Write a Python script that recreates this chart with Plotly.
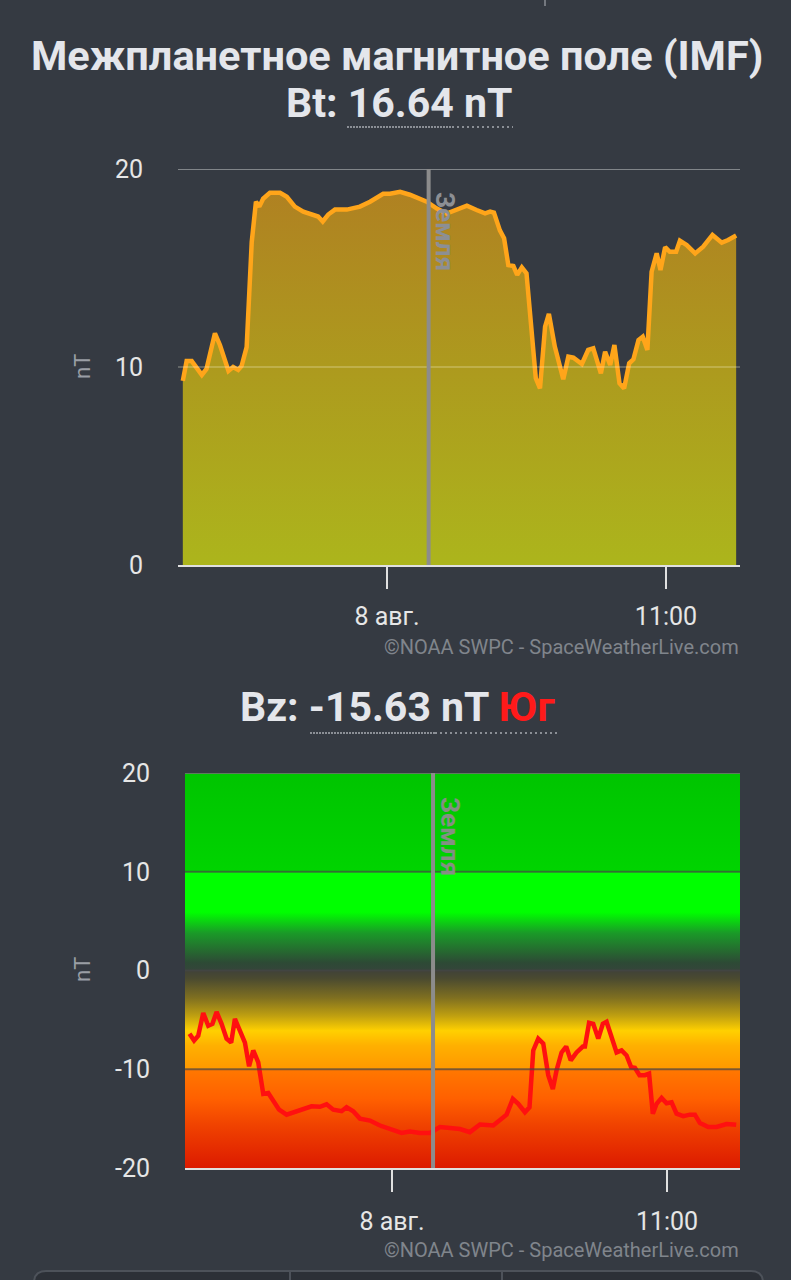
import plotly.graph_objects as go

# ---------------- data ----------------
BT_TIME = [
    "2024-08-07 15:57", "2024-08-07 16:06", "2024-08-07 16:18", "2024-08-07 16:42", "2024-08-07 16:53",
    "2024-08-07 17:13", "2024-08-07 17:25", "2024-08-07 17:45", "2024-08-07 17:56", "2024-08-07 18:08",
    "2024-08-07 18:16", "2024-08-07 18:28", "2024-08-07 18:40", "2024-08-07 18:50", "2024-08-07 18:58",
    "2024-08-07 19:07", "2024-08-07 19:23", "2024-08-07 19:47", "2024-08-07 20:03", "2024-08-07 20:22",
    "2024-08-07 20:42", "2024-08-07 21:06", "2024-08-07 21:17", "2024-08-07 21:28", "2024-08-07 21:41",
    "2024-08-07 21:57", "2024-08-07 22:25", "2024-08-07 22:56", "2024-08-07 23:20", "2024-08-07 23:51",
    "2024-08-08 00:07", "2024-08-08 00:31", "2024-08-08 00:54", "2024-08-08 01:34", "2024-08-08 01:58",
    "2024-08-08 02:21", "2024-08-08 02:45", "2024-08-08 03:09", "2024-08-08 03:32", "2024-08-08 03:52",
    "2024-08-08 04:04", "2024-08-08 04:13", "2024-08-08 04:27", "2024-08-08 04:37", "2024-08-08 04:47",
    "2024-08-08 04:59", "2024-08-08 05:08", "2024-08-08 05:19", "2024-08-08 05:30", "2024-08-08 05:42",
    "2024-08-08 05:52", "2024-08-08 06:02", "2024-08-08 06:14", "2024-08-08 06:23", "2024-08-08 06:37",
    "2024-08-08 06:57", "2024-08-08 07:09", "2024-08-08 07:21", "2024-08-08 07:41", "2024-08-08 07:56",
    "2024-08-08 08:08", "2024-08-08 08:26", "2024-08-08 08:36", "2024-08-08 08:48", "2024-08-08 08:58",
    "2024-08-08 09:10", "2024-08-08 09:21", "2024-08-08 09:33", "2024-08-08 09:43", "2024-08-08 09:55",
    "2024-08-08 10:05", "2024-08-08 10:16", "2024-08-08 10:26", "2024-08-08 10:38", "2024-08-08 10:47",
    "2024-08-08 10:58", "2024-08-08 11:09", "2024-08-08 11:24", "2024-08-08 11:33", "2024-08-08 11:49",
    "2024-08-08 12:09", "2024-08-08 12:28", "2024-08-08 12:50", "2024-08-08 13:12", "2024-08-08 13:27",
    "2024-08-08 13:46",
]
BT_VALUE = [
    9.3, 10.3, 10.3, 9.6, 9.9,
    11.7, 11.1, 9.8, 10.0, 9.85,
    10.05, 11.0, 16.3, 18.35, 18.1,
    18.5, 18.8, 18.8, 18.6, 18.1,
    17.85, 17.7, 17.6, 17.35, 17.7,
    17.95, 17.95, 18.1, 18.35, 18.75,
    18.75, 18.85, 18.7, 18.35, 18.0,
    17.75, 17.93, 18.15, 17.93, 17.76,
    17.85, 17.8, 16.9, 16.5, 15.15,
    15.1, 14.65, 15.03, 14.73, 11.7,
    9.43, 8.92, 12.04, 12.68, 11.03,
    9.38, 10.52, 10.47, 10.15, 10.86,
    10.94, 9.68, 10.77, 10.1, 11.11,
    9.18, 8.92, 10.19, 10.39, 11.36,
    11.53, 10.86, 14.81, 15.74, 14.9,
    16.05, 15.82, 15.82, 16.38, 16.16,
    15.74, 16.08, 16.67, 16.28, 16.41,
    16.64,
]

BZ_TIME = [
    "2024-08-07 15:54", "2024-08-07 16:05", "2024-08-07 16:15", "2024-08-07 16:27", "2024-08-07 16:39",
    "2024-08-07 16:49", "2024-08-07 16:59", "2024-08-07 17:11", "2024-08-07 17:23", "2024-08-07 17:34",
    "2024-08-07 17:43", "2024-08-07 17:55", "2024-08-07 18:07", "2024-08-07 18:17", "2024-08-07 18:27",
    "2024-08-07 18:39", "2024-08-07 18:51", "2024-08-07 19:03", "2024-08-07 19:15", "2024-08-07 19:29",
    "2024-08-07 19:47", "2024-08-07 20:07", "2024-08-07 20:27", "2024-08-07 20:47", "2024-08-07 21:07",
    "2024-08-07 21:23", "2024-08-07 21:39", "2024-08-07 21:59", "2024-08-07 22:11", "2024-08-07 22:27",
    "2024-08-07 22:43", "2024-08-07 23:07", "2024-08-07 23:31", "2024-08-07 23:55", "2024-08-08 00:23",
    "2024-08-08 00:43", "2024-08-08 01:07", "2024-08-08 01:31", "2024-08-08 01:55", "2024-08-08 02:19",
    "2024-08-08 02:43", "2024-08-08 03:07", "2024-08-08 03:31", "2024-08-08 04:03", "2024-08-08 04:19",
    "2024-08-08 04:35", "2024-08-08 04:50", "2024-08-08 05:03", "2024-08-08 05:19", "2024-08-08 05:30",
    "2024-08-08 05:39", "2024-08-08 05:51", "2024-08-08 06:03", "2024-08-08 06:15", "2024-08-08 06:26",
    "2024-08-08 06:35", "2024-08-08 06:47", "2024-08-08 06:58", "2024-08-08 07:09", "2024-08-08 07:23",
    "2024-08-08 07:38", "2024-08-08 07:43", "2024-08-08 07:53", "2024-08-08 08:03", "2024-08-08 08:15",
    "2024-08-08 08:26", "2024-08-08 08:35", "2024-08-08 08:47", "2024-08-08 08:59", "2024-08-08 09:11",
    "2024-08-08 09:23", "2024-08-08 09:34", "2024-08-08 09:43", "2024-08-08 09:54", "2024-08-08 10:07",
    "2024-08-08 10:17", "2024-08-08 10:26", "2024-08-08 10:35", "2024-08-08 10:47", "2024-08-08 10:59",
    "2024-08-08 11:11", "2024-08-08 11:23", "2024-08-08 11:39", "2024-08-08 11:55", "2024-08-08 12:07",
    "2024-08-08 12:19", "2024-08-08 12:39", "2024-08-08 12:59", "2024-08-08 13:23", "2024-08-08 13:46",
]
BZ_VALUE = [
    -6.4, -7.1, -6.6, -4.3, -5.6,
    -5.4, -4.2, -5.4, -6.9, -7.3,
    -4.9, -6.25, -7.3, -9.7, -8.1,
    -9.3, -12.5, -12.4, -13.2, -14.1,
    -14.6, -14.35, -14.0, -13.75, -13.8,
    -13.55, -14.1, -14.25, -13.85, -14.25,
    -15.0, -15.2, -15.7, -16.1, -16.45,
    -16.3, -16.45, -16.45, -15.85, -15.95,
    -16.05, -16.37, -15.6, -15.7, -15.1,
    -14.6, -13.0, -13.5, -14.35, -13.85,
    -8.1, -6.9, -7.4, -10.6, -12.0,
    -10.1, -8.3, -7.7, -9.1, -8.3,
    -7.7, -7.7, -5.3, -5.4, -6.9,
    -5.4, -5.2, -6.6, -8.3, -8.1,
    -8.6, -9.8, -9.85, -10.6, -10.6,
    -10.45, -14.5, -13.5, -12.9, -13.45,
    -13.35, -14.5, -14.75, -14.6, -14.6,
    -15.45, -15.85, -15.85, -15.55, -15.63,
]

EARTH_TIME = "2024-08-08 01:38:30"
TICK_VALS = ["2024-08-08 00:00", "2024-08-08 11:00"]
TICK_TEXT = ["8 авг.", "11:00"]
BT_TICKS = [0, 10, 20]
BT_TICK_TEXT = ["0", "10", "20"]
BZ_TICKS = [-20, -10, 0, 10, 20]
BZ_TICK_TEXT = ["-20", "-10", "0", "10", "20"]

TITLE = "Межпланетное магнитное поле (IMF)"
BT_LABEL = "Bt: 16.64 nT"
BZ_LABEL = "Bz: -15.63 nT"
BZ_DIR = "Юг"
CREDIT = "©NOAA SWPC - SpaceWeatherLive.com"
EARTH_LABEL = "Земля"

# ---------------- layout helpers ----------------
W, H = 791, 1280
BG = "#353a42"
FONT = "Roboto"


def px(x):
    return x / W


def py(y):
    return 1 - y / H


TOP_RANGE = ["2024-08-07 15:45:36", "2024-08-08 13:55:06"]
BOT_RANGE = ["2024-08-07 15:43:12", "2024-08-08 13:55:12"]

fig = go.Figure()

# Bz background bands (vertical gradient)
bz_scale = [
    [0.0, "#dc1a00"],
    [0.1075, "#f04200"],
    [0.175, "#ff6000"],
    [0.2497, "#ff7800"],
    [0.2503, "#ff9800"],
    [0.31, "#ffb000"],
    [0.3475, "#ffd000"],
    [0.385, "#c0a010"],
    [0.43, "#807020"],
    [0.48, "#4a4a30"],
    [0.4998, "#404238"],
    [0.5002, "#34453a"],
    [0.52, "#2d4a35"],
    [0.595, "#1a9a28"],
    [0.6475, "#00ff00"],
    [0.7497, "#00ff00"],
    [0.7503, "#00d400"],
    [1.0, "#00c400"],
]
fig.add_trace(go.Scatter(
    x=[BOT_RANGE[0], BOT_RANGE[1], BOT_RANGE[1], BOT_RANGE[0], BOT_RANGE[0]],
    y=[BZ_TICKS[0], BZ_TICKS[0], BZ_TICKS[-1], BZ_TICKS[-1], BZ_TICKS[0]],
    fill="toself", mode="none",
    fillgradient=dict(type="vertical", start=BZ_TICKS[0], stop=BZ_TICKS[-1], colorscale=bz_scale),
    xaxis="x2", yaxis="y2", hoverinfo="skip", showlegend=False,
))

# Bt area
fig.add_trace(go.Scatter(
    x=BT_TIME, y=BT_VALUE, mode="lines", fill="tozeroy",
    line=dict(color="#ffa51a", width=4.5),
    fillgradient=dict(type="vertical", start=0, stop=20,
                      colorscale=[[0, "#acb51c"], [0.5, "#ad9a1e"], [1, "#b07e22"]]),
    xaxis="x", yaxis="y", showlegend=False,
))

# Bz line
fig.add_trace(go.Scatter(
    x=BZ_TIME, y=BZ_VALUE, mode="lines",
    line=dict(color="#ff1010", width=4.5),
    xaxis="x2", yaxis="y2", showlegend=False,
))

tickfont = dict(family=FONT, size=25, color="#e6e6e6")

fig.update_layout(
    width=W, height=H, autosize=False,
    margin=dict(l=0, r=0, t=0, b=0, pad=0, autoexpand=False),
    paper_bgcolor=BG, plot_bgcolor="rgba(0,0,0,0)",
    showlegend=False,
    xaxis=dict(
        domain=[px(178), px(740)], range=TOP_RANGE, type="date",
        tickvals=TICK_VALS, ticktext=TICK_TEXT, tickfont=tickfont,
        ticks="outside", ticklen=22, tickwidth=2, tickcolor="#e0e0e0",
        ticklabelstandoff=6, automargin=False,
        showline=True, linecolor="#e0e0e0", linewidth=2,
        showgrid=False, zeroline=False, anchor="y", layer="above traces",
    ),
    yaxis=dict(
        domain=[py(565), py(169)], range=[0, 20],
        tickvals=BT_TICKS, ticktext=BT_TICK_TEXT, tickfont=tickfont, ticks="",
        ticklabelstandoff=34, automargin=False,
        showgrid=False, zeroline=False, showline=False, anchor="x",
    ),
    xaxis2=dict(
        domain=[px(185), px(740)], range=BOT_RANGE, type="date",
        tickvals=TICK_VALS, ticktext=TICK_TEXT, tickfont=tickfont,
        ticks="outside", ticklen=22, tickwidth=2, tickcolor="#e0e0e0",
        ticklabelstandoff=8, automargin=False,
        showline=True, linecolor="#e0e0e0", linewidth=2,
        showgrid=False, zeroline=False, anchor="y2", layer="above traces",
    ),
    yaxis2=dict(
        domain=[py(1168), py(773)], range=[-20, 20],
        tickvals=BZ_TICKS, ticktext=BZ_TICK_TEXT, tickfont=tickfont, ticks="",
        ticklabelstandoff=34, automargin=False,
        showgrid=False, zeroline=False, showline=False, anchor="x2",
    ),
)

# grid lines drawn above the fills
for v in BT_TICKS[1:]:
    fig.add_shape(type="line", xref="x domain", yref="y", x0=0, x1=1, y0=v, y1=v,
                  line=dict(color="rgba(255,255,255,0.38)" if v == 20 else "rgba(255,255,230,0.3)",
                            width=2 if v == 20 else 1.5), layer="above")
for v in BZ_TICKS[1:]:
    fig.add_shape(type="line", xref="x2 domain", yref="y2", x0=0, x1=1, y0=v, y1=v,
                  line=dict(color="rgba(110,110,110,0.85)" if v == 20 else "rgba(70,70,70,0.7)", width=2),
                  layer="above")

# Earth marker lines
for xa, ya in (("x", "y"), ("x2", "y2")):
    fig.add_shape(type="line", xref=xa, yref=f"{ya} domain", x0=EARTH_TIME, x1=EARTH_TIME,
                  y0=0, y1=1, line=dict(color="#8c8c8c", width=4), layer="above")


# dotted underlines
def underline(x0, xm, x1, y):
    fig.add_shape(type="line", xref="paper", yref="paper", x0=px(x0), x1=px(xm), y0=py(y), y1=py(y),
                  line=dict(color="#a8acb2", width=1.5, dash="2px,1px"))
    fig.add_shape(type="line", xref="paper", yref="paper", x0=px(xm), x1=px(x1), y0=py(y), y1=py(y),
                  line=dict(color="#a8acb2", width=1.5, dash="2px,3px"))


underline(347, 452, 513, 127)
underline(310, 435, 557, 733)

# small tick at top of page
fig.add_shape(type="line", xref="paper", yref="paper", x0=px(545), x1=px(545), y0=py(0), y1=py(6),
              line=dict(color="#8a8e94", width=1.5))

# bottom UI panel (rounded box with dividers)
r = 12
x0b, x1b, y0b, y1b = 34, 763, 1271, 1300
path = (f"M {px(x0b)},{py(y1b)} L {px(x0b)},{py(y0b + r)} Q {px(x0b)},{py(y0b)} {px(x0b + r)},{py(y0b)} "
        f"L {px(x1b - r)},{py(y0b)} Q {px(x1b)},{py(y0b)} {px(x1b)},{py(y0b + r)} L {px(x1b)},{py(y1b)} Z")
fig.add_shape(type="path", xref="paper", yref="paper", path=path,
              line=dict(color="#4d525a", width=2), fillcolor="#2c3037")
for xd in (290, 502):
    fig.add_shape(type="line", xref="paper", yref="paper", x0=px(xd), x1=px(xd), y0=py(1272), y1=py(1280),
                  line=dict(color="#4d525a", width=2))

ann = []
ann.append(dict(text=f"<b>{TITLE}</b>", x=px(397), y=py(55), font=dict(family=FONT, size=41.5, color="#e4e6eb")))
ann.append(dict(text=f"<b>{BT_LABEL}</b>", x=px(399), y=py(103), font=dict(family=FONT, size=41, color="#e4e6eb")))
ann.append(dict(text=f"<b>{BZ_LABEL} <span style='color:#ff1a1a'>{BZ_DIR}</span></b>", x=px(398), y=py(707),
                font=dict(family=FONT, size=41, color="#e4e6eb")))
for yc in (367, 970):
    ann.append(dict(text="nT", x=px(82), y=py(yc), textangle=-90, font=dict(family=FONT, size=22, color="#9a9ea5")))
for yc in (647, 1250):
    ann.append(dict(text=CREDIT, x=px(741), y=py(yc), xanchor="right",
                    font=dict(family=FONT, size=20, color="#80858c")))
ann.append(dict(text=f"<b>{EARTH_LABEL}</b>", x=px(445), y=py(232), textangle=90,
                font=dict(family=FONT, size=26, color="#8c8f94")))
ann.append(dict(text=f"<b>{EARTH_LABEL}</b>", x=px(450), y=py(836), textangle=90,
                font=dict(family=FONT, size=26, color="rgba(140,140,140,0.95)")))

for a in ann:
    a.setdefault("xref", "paper")
    a.setdefault("yref", "paper")
    a.setdefault("xanchor", "center")
    a.setdefault("yanchor", "middle")
    a["showarrow"] = False
    fig.add_annotation(**a)

fig.write_html(
    "out.html",
    config={"displayModeBar": False, "responsive": False},
    post_script="document.body.style.margin='0';document.body.style.overflow='hidden';"
                "document.documentElement.style.overflow='hidden';",
)
